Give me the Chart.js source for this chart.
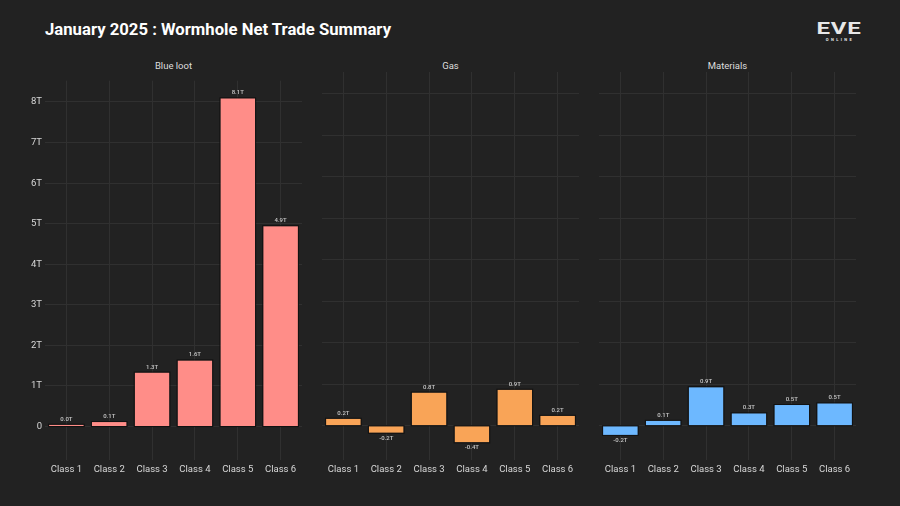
<!DOCTYPE html>
<html>
<head>
<meta charset="utf-8">
<script src="https://cdn.jsdelivr.net/npm/chart.js@4.4.1/dist/chart.umd.min.js"></script>
<style>
  html, body { margin: 0; padding: 0; background: #222222; }
  #page { position: relative; width: 900px; height: 506px; background: #222222; overflow: hidden; font-family: Roboto, "DejaVu Sans", sans-serif; }
  #title { position: absolute; left: 45px; top: 20px; color: #ffffff; font-size: 16.7px; font-weight: bold; white-space: nowrap; }
  .strip { position: absolute; top: 60px; width: 257px; text-align: center; color: #dddddd; font-size: 9.5px; }
  .panel { position: absolute; top: 72px; height: 414px; }
  #logo { position: absolute; left: 808px; top: 21px; width: 62px; text-align: center; color: #e8e8e8; }
  #logo .eve { font-size: 16px; font-weight: bold; letter-spacing: 0.5px; line-height: 16px; transform: scaleX(1.5); }
  #logo .online { font-size: 4px; letter-spacing: 2.4px; line-height: 6px; font-weight: bold; padding-left: 2px; }
</style>
</head>
<body>
<div id="page">
  <div id="title">January 2025 : Wormhole Net Trade Summary</div>
  <div id="logo"><div class="eve">EVE</div><div class="online">ONLINE</div></div>
  <div class="strip" style="left:45px">Blue loot</div>
  <div class="strip" style="left:322px">Gas</div>
  <div class="strip" style="left:599px">Materials</div>
  <div class="panel" style="left:0px;width:302px"><canvas id="chart1"></canvas></div>
  <div class="panel" style="left:322px;width:257px"><canvas id="chart2"></canvas></div>
  <div class="panel" style="left:599px;width:257px"><canvas id="chart3"></canvas></div>
</div>
<script>
// Datos (en T)
const classes = ['Class 1', 'Class 2', 'Class 3', 'Class 4', 'Class 5', 'Class 6'];
const blueLoot = [0.045, 0.11, 1.33, 1.63, 8.09, 4.94];
const gas = [0.17, -0.17, 0.80, -0.40, 0.87, 0.24];
const materials = [-0.22, 0.12, 0.93, 0.30, 0.50, 0.54];
const yTicks = [0, 1, 2, 3, 4, 5, 6, 7, 8];
const yMin = -0.825;
const yMax = 8.525;

const gridColor = '#303030';
const fontFamily = 'Roboto, "DejaVu Sans", sans-serif';

// Contorno de barras (por fuera, como ggplot) y etiquetas de valor
const barDecor = {
    id: 'barDecor',
    afterDatasetsDraw(chart) {
        const ctx = chart.ctx;
        const meta = chart.getDatasetMeta(0);
        const vals = chart.data.datasets[0].data;
        ctx.save();
        ctx.strokeStyle = '#121212';
        ctx.lineWidth = 1;
        meta.data.forEach((bar) => {
            const { x, y, base, width } = bar.getProps(['x', 'y', 'base', 'width'], true);
            const top = Math.min(y, base);
            const h = Math.abs(base - y);
            ctx.strokeRect(x - width / 2 - 0.5, top - 0.5, width + 1, h + 1);
        });
        ctx.font = '500 6px ' + fontFamily;
        ctx.fillStyle = '#c8c8c8';
        ctx.textAlign = 'center';
        ctx.textBaseline = 'middle';
        meta.data.forEach((bar, i) => {
            const v = vals[i];
            const ly = v >= 0 ? bar.y - 5.5 : bar.y + 5.5;
            ctx.fillText(v.toFixed(1) + 'T', bar.x, ly);
        });
        ctx.restore();
    }
};

const makePanel = (id, values, color, showY) => {
    const ctx = document.getElementById(id);
    return new Chart(ctx, {
        type: 'bar',
        data: {
            labels: classes,
            datasets: [{
                data: values,
                backgroundColor: color,
                borderWidth: 0,
                barPercentage: 0.81,
                categoryPercentage: 1
            }]
        },
        options: {
            responsive: true,
            maintainAspectRatio: false,
            animation: false,
            layout: { padding: 0 },
            plugins: {
                legend: { display: false },
                tooltip: { enabled: false }
            },
            scales: {
                x: {
                    offset: true,
                    grid: { color: gridColor, offset: false, drawTicks: false },
                    border: { display: false },
                    ticks: { color: '#d8d8d8', font: { family: fontFamily, size: 9.5 }, padding: 4, maxRotation: 0 },
                    afterFit: (scale) => { scale.height = 26; }
                },
                y: {
                    min: yMin,
                    max: yMax,
                    grid: { color: gridColor, drawTicks: false },
                    border: { display: false },
                    afterBuildTicks: (scale) => { scale.ticks = yTicks.map(v => ({ value: v })); },
                    ticks: {
                        display: showY,
                        color: '#d8d8d8',
                        font: { family: fontFamily, size: 9.5 },
                        padding: 3,
                        callback: (v) => v === 0 ? '0' : v + 'T'
                    },
                    afterFit: (scale) => { scale.width = showY ? 45 : 0; }
                }
            }
        },
        plugins: [barDecor]
    });
};

makePanel('chart1', blueLoot, '#ff8d88', true);
makePanel('chart2', gas, '#f9a457', false);
makePanel('chart3', materials, '#6db8ff', false);
</script>
</body>
</html>
